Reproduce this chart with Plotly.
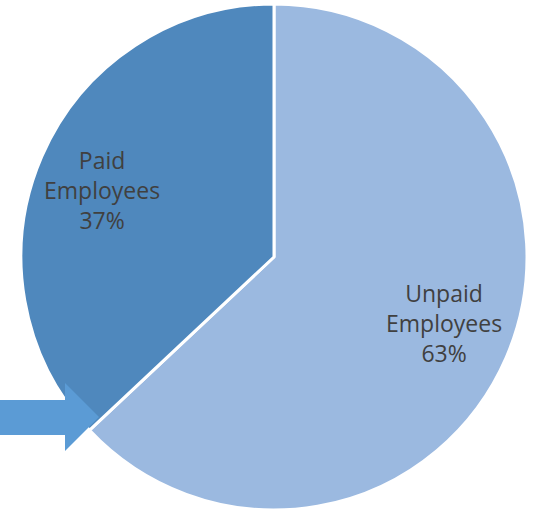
import plotly.graph_objects as go

labels = ["Unpaid Employees", "Paid Employees"]
label_lines = [["Unpaid", "Employees"], ["Paid", "Employees"]]
values = [63, 37]
colors = ["#9BB9E0", "#4F88BD"]

W, H = 533, 512  # slightly taller than the window so the pie touches the bottom edge

fig = go.Figure(go.Pie(
    labels=labels,
    values=values,
    sort=False,
    direction="clockwise",
    rotation=0,
    marker=dict(colors=colors, line=dict(color="white", width=3)),
    textinfo="none",
    hoverinfo="label+percent",
    showlegend=False,
    domain=dict(x=[21 / W, 527 / W], y=[2 / H, 508 / H]),
))

total = sum(values)
label_pos = [(444, 323), (102, 190)]  # pixel centers of label blocks
for lines, v, (px, py) in zip(label_lines, values, label_pos):
    pct = round(100 * v / total)
    fig.add_annotation(
        x=px / W, y=1 - py / H, xref="paper", yref="paper",
        xanchor="center", yanchor="middle",
        text="<br>".join(lines + [f"{pct}%"]),
        showarrow=False,
        font=dict(family="Open Sans, Liberation Sans, sans-serif", size=23, color="#404040"),
        align="center",
    )

# arrow pointing to the slice boundary (drawn over the pie)
pts = [(0, 400), (65, 400), (65, 383), (99, 417), (65, 451), (65, 435), (0, 435)]
path = "M " + " L ".join(f"{x / W} {1 - y / H}" for x, y in pts) + " Z"
fig.add_shape(type="path", path=path, xref="paper", yref="paper",
              fillcolor="#5B9BD5", line=dict(width=0), layer="above")

fig.update_layout(
    width=W, height=H,
    margin=dict(l=0, r=0, t=0, b=0),
    paper_bgcolor="white",
    plot_bgcolor="white",
)

fig.write_html("out.html", config={"displayModeBar": False},
               post_script="document.body.style.margin='0';")
